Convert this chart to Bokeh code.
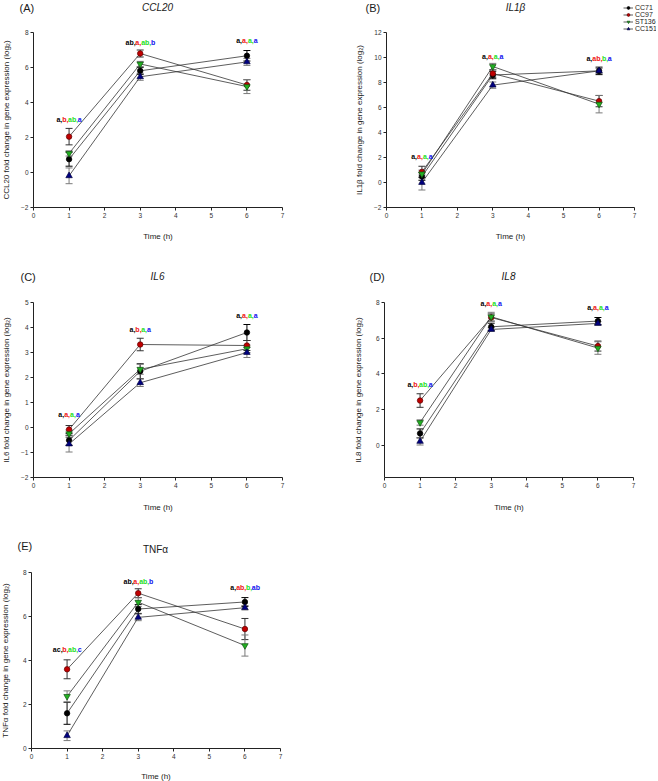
import math
from bokeh.plotting import figure
from bokeh.layouts import column, row
from bokeh.models import (Label, Legend, LegendItem, FixedTicker, Range1d, Whisker,
                          ColumnDataSource, TeeHead)
from bokeh.core.properties import value
from bokeh.embed import file_html
from bokeh.resources import INLINE

# ---------------- data ----------------
time_h = [1, 3, 6]
strains = ["CC71", "CC97", "ST136", "CC151"]
x_ticks = [0, 1, 2, 3, 4, 5, 6, 7]

# rows = strains (CC71, CC97, ST136, CC151), columns = time 1, 3, 6 h
ccl20_mean = [[0.76, 5.81, 6.67], [2.05, 6.80, 5.00], [1.09, 6.20, 4.91], [-0.19, 5.47, 6.32]]
ccl20_sem = [[0.40, 0.20, 0.30], [0.47, 0.20, 0.30], [0.15, 0.15, 0.40], [0.45, 0.20, 0.20]]
ccl20_letters = [["a", "b", "ab", "a"], ["ab", "a", "ab", "b"], ["a", "a", "a", "a"]]
ccl20_letter_y = [3.05, 7.43, 7.52]
ccl20_yticks = [-2, 0, 2, 4, 6, 8]

il1b_mean = [[0.48, 8.60, 8.93], [0.85, 8.72, 6.51], [0.69, 9.28, 6.27], [0.00, 7.79, 8.93]]
il1b_sem = [[0.30, 0.30, 0.30], [0.45, 0.30, 0.45], [0.30, 0.25, 0.70], [0.60, 0.25, 0.20]]
il1b_letters = [["a", "a", "a", "a"], ["a", "a", "a", "a"], ["a", "ab", "b", "a"]]
il1b_letter_y = [2.05, 10.1, 9.95]
il1b_yticks = [-2, 0, 2, 4, 6, 8, 10, 12]

il6_mean = [[-0.51, 2.25, 3.80], [-0.08, 3.32, 3.28], [-0.25, 2.33, 3.15], [-0.66, 1.79, 3.00]]
il6_sem = [[0.20, 0.30, 0.32], [0.16, 0.25, 0.20], [0.15, 0.20, 0.15], [0.32, 0.15, 0.20]]
il6_letters = [["a", "a", "a", "a"], ["a", "b", "a", "a"], ["a", "a", "a", "a"]]
il6_letter_y = [0.53, 3.92, 4.49]
il6_yticks = [-2, -1, 0, 1, 2, 3, 4, 5]

il8_mean = [[0.67, 6.64, 6.96], [2.51, 7.16, 5.56], [1.28, 7.20, 5.45], [0.22, 6.49, 6.83]]
il8_sem = [[0.25, 0.20, 0.20], [0.38, 0.20, 0.28], [0.15, 0.25, 0.35], [0.20, 0.10, 0.10]]
il8_letters = [["a", "b", "ab", "a"], ["a", "a", "a", "a"], ["a", "a", "a", "a"]]
il8_letter_y = [3.42, 7.94, 7.74]
il8_yticks = [0, 2, 4, 6, 8]

tnf_mean = [[1.60, 6.34, 6.66], [3.60, 7.06, 5.43], [2.37, 6.65, 4.68], [0.58, 5.96, 6.40]]
tnf_sem = [[0.50, 0.20, 0.20], [0.43, 0.20, 0.48], [0.25, 0.20, 0.48], [0.22, 0.15, 0.10]]
tnf_letters = [["ac", "b", "ab", "c"], ["ab", "a", "ab", "b"], ["a", "ab", "b", "ab"]]
tnf_letter_y = [4.5, 7.57, 7.3]
tnf_yticks = [0, 2, 4, 6, 8]

# ---------------- styles ----------------
FONT = "Liberation Sans"
marker_types = ["circle", "circle", "inverted_triangle", "triangle"]
marker_sizes = [5.5, 5.5, 6.5, 6.5]
marker_fill = ["#000000", "#c00000", "#22b022", "#000080"]
marker_line = ["#000000", "#600000", "#105010", "#000040"]
bar_colors = ["#000000", "#333333", "#7a7a7a", "#7a7a7a"]
letter_colors = ["#000000", "#ee1111", "#22dd22", "#1111ee"]
CHAR_W = {"a": 0.556, "b": 0.556, "c": 0.5, ",": 0.278}
LETTER_FS = 7.0


def make_panel(cell, area, yrange, yticks, tag, gene, gene_style, ylabel,
               mean, sem, letters, letter_y, title_pos, tag_pos, ylab_x, xlab_y,
               legend_pos=None):
    """cell = (W, H) in px; area = (L, T, R, B) px of the axes box inside the cell."""
    W, H = cell
    L, T, R, B = area
    y0, y1 = yrange
    kx = (R - L) / 7.0
    ky = (B - T) / float(y1 - y0)
    xr = Range1d(-L / kx, 7 + (W - R) / kx)
    yr = Range1d(y0 - (H - B) / ky, y1 + T / ky)

    def px(v):
        return (v - L) / kx

    def py(v):
        return y1 - (v - T) / ky

    p = figure(frame_width=W, frame_height=H, min_border=0,
               min_border_left=0, min_border_right=0, min_border_top=0, min_border_bottom=0,
               x_range=xr, y_range=yr, title_location=None,
               output_backend="svg", toolbar_location=None, tools="")
    p.grid.visible = False
    p.outline_line_color = None
    p.background_fill_color = "white"
    p.border_fill_color = "white"

    for ax in (p.xaxis[0], p.yaxis[0]):
        ax.axis_line_color = "#222222"
        ax.axis_line_width = 1
        ax.major_tick_line_color = "#222222"
        ax.major_tick_out = 3
        ax.major_tick_in = 0
        ax.minor_tick_line_color = None
        ax.major_label_text_font = FONT
        ax.major_label_text_font_size = "6.5px"
        ax.major_label_text_color = "#333333"
        ax.major_label_standoff = 2
    p.xaxis.ticker = FixedTicker(ticks=x_ticks)
    p.yaxis.ticker = FixedTicker(ticks=yticks)
    p.xaxis.fixed_location = y0
    p.yaxis.fixed_location = 0
    p.xaxis.bounds = (0, 7)
    p.yaxis.bounds = (y0, y1)

    legend_items = []
    for k, s in enumerate(strains):
        lo = [m - e for m, e in zip(mean[k], sem[k])]
        hi = [m + e for m, e in zip(mean[k], sem[k])]
        src = ColumnDataSource(dict(t=time_h, m=mean[k], lo=lo, hi=hi))
        lr = p.line("t", "m", source=src, line_color="#333333", line_width=0.8)
        w = Whisker(base="t", lower="lo", upper="hi", source=src,
                    line_color=bar_colors[k], line_width=1,
                    upper_head=TeeHead(size=7, line_color=bar_colors[k], line_width=1),
                    lower_head=TeeHead(size=7, line_color=bar_colors[k], line_width=1))
        p.add_layout(w)
        mr = p.scatter("t", "m", source=src, marker=marker_types[k], size=marker_sizes[k],
                       fill_color=marker_fill[k], line_color=marker_line[k], line_width=0.7)
        legend_items.append(LegendItem(label=s, renderers=[lr, mr]))

    # significance letters
    xs, ys, txt, cols, offs = [], [], [], [], []
    for i, t in enumerate(time_h):
        pieces = [letters[i][k] + ("," if k < 3 else "") for k in range(4)]
        widths = [sum(CHAR_W[c] for c in pc) * LETTER_FS for pc in pieces]
        start = -sum(widths) / 2.0
        for k, pc in enumerate(pieces):
            xs.append(t); ys.append(letter_y[i]); txt.append(pc)
            cols.append(letter_colors[k]); offs.append(start)
            start += widths[k]
    lsrc = ColumnDataSource(dict(x=xs, y=ys, text=txt, color=cols, xoff=offs))
    p.text(x="x", y="y", text="text", source=lsrc, text_color="color", x_offset="xoff",
           text_font=value(FONT), text_font_size="7px", text_font_style="bold",
           text_baseline="middle", text_align="left")

    def lab(text, xy, align="center", size="8px", style="normal", angle=0.0):
        p.add_layout(Label(x=px(xy[0]), y=py(xy[1]), text=text, text_align=align,
                           text_baseline="middle", angle=angle,
                           text_font=FONT, text_font_size=size, text_font_style=style,
                           text_color="#1a1a1a"))

    lab(gene, title_pos, size="10px", style=gene_style)
    lab(tag, tag_pos, align="left", size="11px")
    lab(ylabel, (ylab_x, (T + B) / 2.0), angle=math.pi / 2)
    lab("Time (h)", ((L + R) / 2.0, xlab_y))

    if legend_pos is not None:
        lg = Legend(items=legend_items, location=(legend_pos[0], H - legend_pos[1]))
        lg.label_text_font = FONT
        lg.label_text_font_size = "7px"
        lg.label_text_color = "#222222"
        lg.glyph_width = 10
        lg.glyph_height = 7
        lg.label_height = 7
        lg.label_standoff = 2
        lg.spacing = 0
        lg.padding = 0
        lg.margin = 0
        lg.border_line_color = None
        lg.background_fill_alpha = 0
        p.add_layout(lg)
    return p


ylab = " fold change in gene expression (log\u2082)"
pA = make_panel((353, 260), (33, 32, 282, 207), (-2, 8), ccl20_yticks, "(A)", "CCL20", "italic",
                "CCL20" + ylab, ccl20_mean, ccl20_sem, ccl20_letters, ccl20_letter_y,
                title_pos=(157, 7), tag_pos=(19, 7), ylab_x=6, xlab_y=236)
pB = make_panel((303, 260), (33, 32, 281, 207), (-2, 12), il1b_yticks, "(B)", "IL1\u03b2", "italic",
                "IL1\u03b2" + ylab, il1b_mean, il1b_sem, il1b_letters, il1b_letter_y,
                title_pos=(162, 7), tag_pos=(12, 7), ylab_x=6, xlab_y=236,
                legend_pos=(270, 32))
pC = make_panel((353, 260), (33, 42, 282, 217), (-2, 5), il6_yticks, "(C)", "IL6", "italic",
                "IL6" + ylab, il6_mean, il6_sem, il6_letters, il6_letter_y,
                title_pos=(157, 16), tag_pos=(20, 16), ylab_x=6, xlab_y=247)
pD = make_panel((303, 260), (31, 42, 280, 217), (-1.8, 8), il8_yticks, "(D)", "IL8", "italic",
                "IL8" + ylab, il8_mean, il8_sem, il8_letters, il8_letter_y,
                title_pos=(155, 16), tag_pos=(16, 16), ylab_x=5, xlab_y=247)
pE = make_panel((353, 261), (31, 52, 280, 228), (0, 8), tnf_yticks, "(E)", "TNF\u03b1", "normal",
                "TNF\u03b1" + ylab, tnf_mean, tnf_sem, tnf_letters, tnf_letter_y,
                title_pos=(155, 29), tag_pos=(17, 25), ylab_x=5, xlab_y=256)

layout = column(row(pA, pB), row(pC, pD), row(pE))
open("out.html", "w").write(file_html(layout, INLINE))
